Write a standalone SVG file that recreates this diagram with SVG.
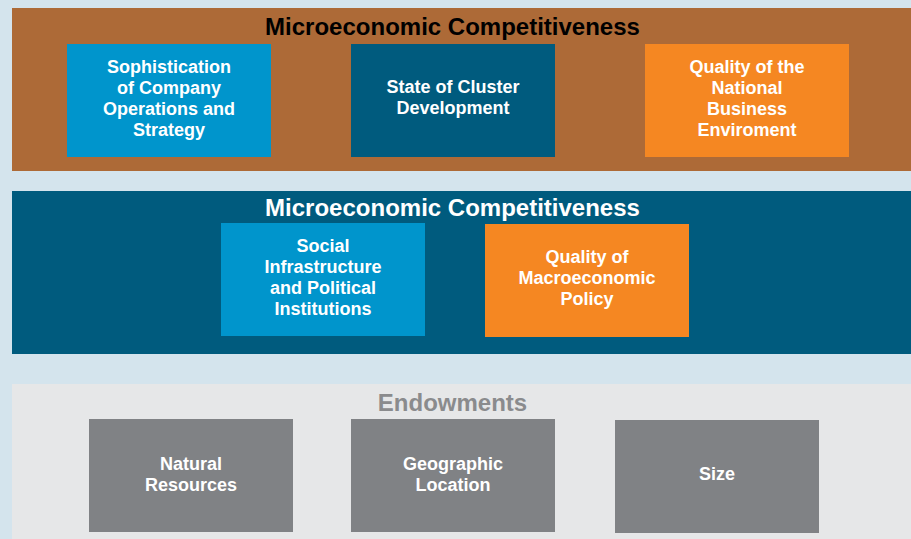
<svg xmlns="http://www.w3.org/2000/svg" width="911" height="539" viewBox="0 0 911 539">
<style>
text{font-family:"Liberation Sans",Arial,sans-serif;font-weight:bold;text-anchor:middle}
.t{font-size:24px}
.b{font-size:18px;fill:#ffffff}
</style>
<rect x="0" y="0" width="911" height="539" fill="#d4e4ed"/>
<g id="band-micro">
<rect x="12" y="8" width="899" height="163" fill="#ad6a37"/>
<text class="t" x="452.5" y="35" fill="#000000">Microeconomic Competitiveness</text>
</g>
<g id="band-macro">
<rect x="12" y="191" width="899" height="163" fill="#005b7e"/>
<text class="t" x="452.5" y="216" fill="#ffffff">Microeconomic Competitiveness</text>
</g>
<g id="band-endow">
<rect x="12" y="384" width="899" height="155" fill="#e6e7e8"/>
<text class="t" x="452.5" y="411" fill="#8a8b8d">Endowments</text>
</g>
<g id="node-sophistication">
<rect x="67" y="44" width="204" height="113" fill="#0095cc"/>
<text class="b" x="169" y="73.3">Sophistication</text>
<text class="b" x="169" y="94.3">of Company</text>
<text class="b" x="169" y="115.3">Operations and</text>
<text class="b" x="169" y="136.3">Strategy</text>
</g>
<g id="node-cluster">
<rect x="351" y="44" width="204" height="113" fill="#005b7e"/>
<text class="b" x="453" y="92.7">State of Cluster</text>
<text class="b" x="453" y="114">Development</text>
</g>
<g id="node-business">
<rect x="645" y="44" width="204" height="113" fill="#f58722"/>
<text class="b" x="747" y="73.3">Quality of the</text>
<text class="b" x="747" y="94.3">National</text>
<text class="b" x="747" y="115.3">Business</text>
<text class="b" x="747" y="136.3">Enviroment</text>
</g>
<g id="node-social">
<rect x="221" y="223" width="204" height="113" fill="#0095cc"/>
<text class="b" x="323" y="251.7">Social</text>
<text class="b" x="323" y="272.7">Infrastructure</text>
<text class="b" x="323" y="293.7">and Political</text>
<text class="b" x="323" y="314.7">Institutions</text>
</g>
<g id="node-macropolicy">
<rect x="485" y="224" width="204" height="113" fill="#f58722"/>
<text class="b" x="587" y="262.7">Quality of</text>
<text class="b" x="587" y="284">Macroeconomic</text>
<text class="b" x="587" y="305">Policy</text>
</g>
<g id="node-natural">
<rect x="89" y="419" width="204" height="113" fill="#808285"/>
<text class="b" x="191" y="469.5">Natural</text>
<text class="b" x="191" y="490.5">Resources</text>
</g>
<g id="node-geographic">
<rect x="351" y="419" width="204" height="113" fill="#808285"/>
<text class="b" x="453" y="469.5">Geographic</text>
<text class="b" x="453" y="490.5">Location</text>
</g>
<g id="node-size">
<rect x="615" y="420" width="204" height="113" fill="#808285"/>
<text class="b" x="717" y="480">Size</text>
</g>
<g id="connectors"></g>
</svg>
